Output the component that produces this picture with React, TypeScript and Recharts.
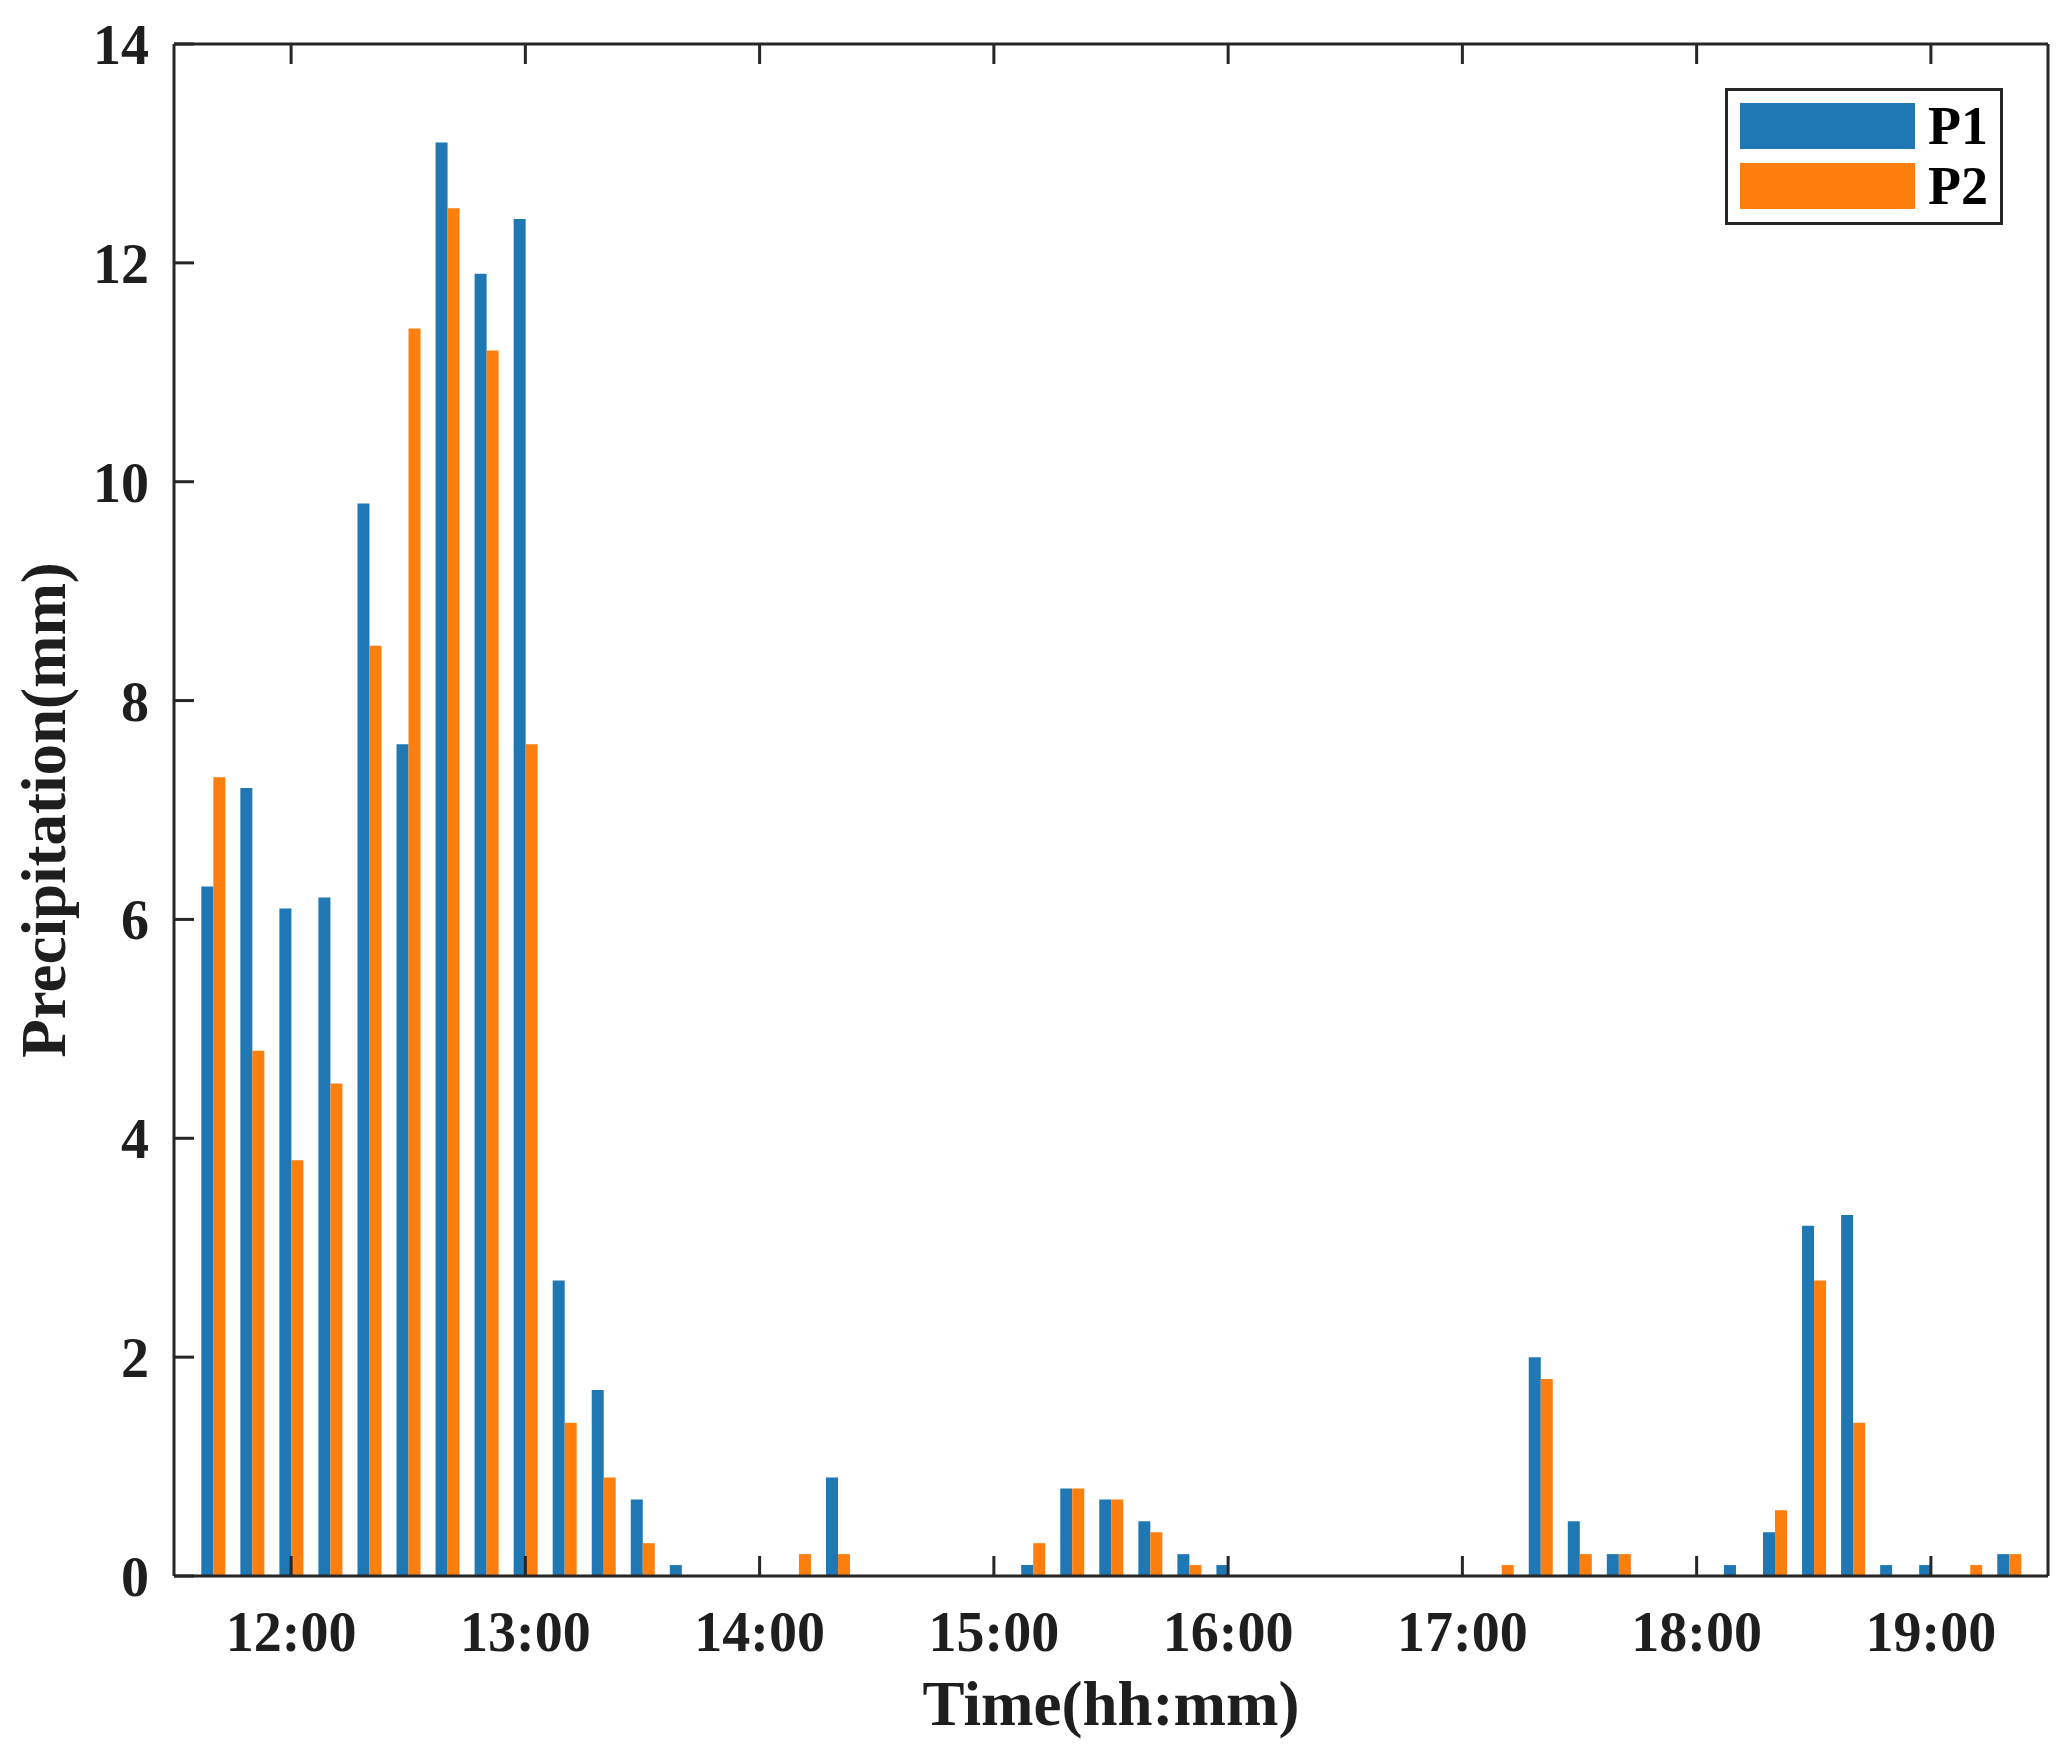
import React from 'react';
import { BarChart, Bar, XAxis, YAxis, Legend } from 'recharts';

// 10-minute slots, 11:40 to 19:20
const TIMES = [
  '11:40', '11:50',
  '12:00', '12:10', '12:20', '12:30', '12:40', '12:50',
  '13:00', '13:10', '13:20', '13:30', '13:40', '13:50',
  '14:00', '14:10', '14:20', '14:30', '14:40', '14:50',
  '15:00', '15:10', '15:20', '15:30', '15:40', '15:50',
  '16:00', '16:10', '16:20', '16:30', '16:40', '16:50',
  '17:00', '17:10', '17:20', '17:30', '17:40', '17:50',
  '18:00', '18:10', '18:20', '18:30', '18:40', '18:50',
  '19:00', '19:10', '19:20',
];

const P1 = [
  6.3, 7.2,
  6.1, 6.2, 9.8, 7.6, 13.1, 11.9,
  12.4, 2.7, 1.7, 0.7, 0.1, 0,
  0, 0, 0.9, 0, 0, 0,
  0, 0.1, 0.8, 0.7, 0.5, 0.2,
  0.1, 0, 0, 0, 0, 0,
  0, 0, 2.0, 0.5, 0.2, 0,
  0, 0.1, 0.4, 3.2, 3.3, 0.1,
  0.1, 0, 0.2,
];

const P2 = [
  7.3, 4.8,
  3.8, 4.5, 8.5, 11.4, 12.5, 11.2,
  7.6, 1.4, 0.9, 0.3, 0, 0,
  0, 0.2, 0.2, 0, 0, 0,
  0, 0.3, 0.8, 0.7, 0.4, 0.1,
  0, 0, 0, 0, 0, 0,
  0, 0.1, 1.8, 0.2, 0.2, 0,
  0, 0, 0.6, 2.7, 1.4, 0,
  0, 0.1, 0.2,
];

const HOUR_TICKS = ['12:00', '13:00', '14:00', '15:00', '16:00', '17:00', '18:00', '19:00'];
const Y_TICKS = [0, 2, 4, 6, 8, 10, 12, 14];

const data = TIMES.map((time, i) => ({ time, P1: P1[i], P2: P2[i] }));

const FONT = '"Liberation Serif", "Times New Roman", serif';
const AXIS = '#262626';
const TEXT = '#1e1e1e';
const BLUE = '#1f77b4';
const ORANGE = '#ff7f0e';
const TICK_LEN = 20;

const BottomTick = ({ x, y, payload }: any) => (
  <g>
    <line x1={x} x2={x} y1={y} y2={y - TICK_LEN} stroke={AXIS} strokeWidth={3} />
    <text x={x} y={y + 75} textAnchor="middle" fill={TEXT}
      style={{ fontFamily: FONT, fontWeight: 'bold', fontSize: 56 }}>
      {payload.value}
    </text>
  </g>
);

const TopTick = ({ x, y }: any) => (
  <line x1={x} x2={x} y1={y} y2={y + TICK_LEN} stroke={AXIS} strokeWidth={3} />
);

const LeftTick = ({ x, y, payload }: any) => (
  <g>
    <line x1={x} x2={x + TICK_LEN} y1={y} y2={y} stroke={AXIS} strokeWidth={3} />
    <text x={x - 25} y={y + 20} textAnchor="end" fill={TEXT}
      style={{ fontFamily: FONT, fontWeight: 'bold', fontSize: 56 }}>
      {payload.value}
    </text>
  </g>
);

const RightTick = ({ x, y }: any) => (
  <line x1={x} x2={x - TICK_LEN} y1={y} y2={y} stroke={AXIS} strokeWidth={3} />
);

const XLabel = ({ viewBox }: any) => (
  <text x={viewBox.x + viewBox.width / 2} y={viewBox.y + 149} textAnchor="middle" fill={TEXT}
    style={{ fontFamily: FONT, fontWeight: 'bold', fontSize: 63 }}>
    Time(hh:mm)
  </text>
);

const YLabel = ({ viewBox }: any) => {
  const cx = 65;
  const cy = viewBox.y + viewBox.height / 2;
  return (
    <text x={cx} y={cy} transform={`rotate(-90, ${cx}, ${cy})`} textAnchor="middle" fill={TEXT}
      style={{ fontFamily: FONT, fontWeight: 'bold', fontSize: 63 }}>
      Precipitation(mm)
    </text>
  );
};

const LegendBox = ({ payload }: any) => (
  <div style={{
    position: 'relative', width: 278, height: 137, boxSizing: 'border-box',
    border: `3px solid ${AXIS}`, background: '#fff',
  }}>
    {(payload || []).map((item: any, i: number) => (
      <div key={item.value} style={{ position: 'absolute', left: 12, top: 12 + i * 60, height: 46, display: 'flex', alignItems: 'center' }}>
        <div style={{ width: 175, height: 46, background: item.color }} />
        <span style={{ marginLeft: 13, fontFamily: FONT, fontWeight: 'bold', fontSize: 54, color: '#000', lineHeight: '46px' }}>
          {item.value}
        </span>
      </div>
    ))}
  </div>
);

export default function App() {
  return (
    <div style={{ position: 'absolute', left: 0, top: 0, background: '#fff' }}>
      <BarChart
        width={2068}
        height={1760}
        data={data}
        margin={{ top: 14, right: 0, bottom: 0, left: 0 }}
        barCategoryGap="20%"
        barGap={0}
      >
        <XAxis
          xAxisId="bottom"
          dataKey="time"
          orientation="bottom"
          height={184}
          padding={{ left: 19.5, right: 19.5 }}
          ticks={HOUR_TICKS}
          interval={0}
          tickSize={0}
          tickMargin={0}
          tickLine={false}
          tick={<BottomTick />}
          axisLine={{ stroke: AXIS, strokeWidth: 3 }}
          label={<XLabel />}
        />
        <XAxis
          xAxisId="top"
          dataKey="time"
          orientation="top"
          height={30}
          padding={{ left: 19.5, right: 19.5 }}
          ticks={HOUR_TICKS}
          interval={0}
          tickSize={0}
          tickMargin={0}
          tickLine={false}
          tick={<TopTick />}
          axisLine={{ stroke: AXIS, strokeWidth: 3 }}
        />
        <YAxis
          yAxisId="left"
          orientation="left"
          width={174}
          domain={[0, 14]}
          ticks={Y_TICKS}
          interval={0}
          tickSize={0}
          tickMargin={0}
          tickLine={false}
          tick={<LeftTick />}
          axisLine={{ stroke: AXIS, strokeWidth: 3 }}
          label={<YLabel />}
        />
        <YAxis
          yAxisId="right"
          orientation="right"
          width={20}
          domain={[0, 14]}
          ticks={Y_TICKS}
          interval={0}
          tickSize={0}
          tickMargin={0}
          tickLine={false}
          tick={<RightTick />}
          axisLine={{ stroke: AXIS, strokeWidth: 3 }}
        />
        <Legend
          layout="horizontal"
          verticalAlign="middle"
          align="center"
          wrapperStyle={{ position: 'absolute', left: 1725, top: 88, width: 278, height: 137 }}
          content={<LegendBox />}
        />
        <Bar xAxisId="bottom" yAxisId="left" dataKey="P1" name="P1" fill={BLUE} isAnimationActive={false} />
        <Bar xAxisId="bottom" yAxisId="left" dataKey="P2" name="P2" fill={ORANGE} isAnimationActive={false} />
      </BarChart>
    </div>
  );
}
